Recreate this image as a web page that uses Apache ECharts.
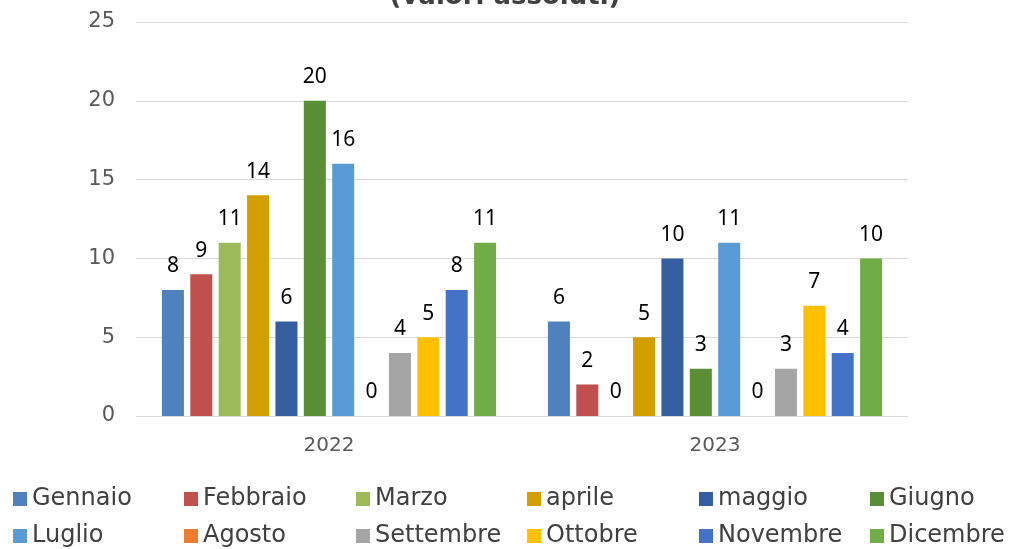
<!DOCTYPE html>
<html>
<head>
<meta charset="utf-8">
<script src="https://cdn.jsdelivr.net/npm/echarts@6/dist/echarts.min.js"></script>
<style>
  html, body { margin: 0; padding: 0; background: #fff; }
  #chart { width: 1010px; height: 549px; }
</style>
</head>
<body>
<div id="chart"></div>
<script>
const years = ['2022', '2023']
const months = ['Gennaio', 'Febbraio', 'Marzo', 'aprile', 'maggio', 'Giugno',
  'Luglio', 'Agosto', 'Settembre', 'Ottobre', 'Novembre', 'Dicembre']
const values2022 = [8, 9, 11, 14, 6, 20, 16, 0, 4, 5, 8, 11]
const values2023 = [6, 2, 0, 5, 10, 3, 11, 0, 3, 7, 4, 10]
const yTicks = [0, 5, 10, 15, 20, 25]

const colors = ['#4F81BD', '#C0504D', '#9BBB59', '#D39F00', '#355EA1', '#5A8E36',
  '#5B9BD5', '#ED7D31', '#A5A5A5', '#FFC000', '#4472C4', '#70AD47']

const font = 'DejaVu Sans, Verdana, sans-serif'

const series = months.map((m, i) => ({
  name: m,
  type: 'bar',
  data: [values2022[i], values2023[i]],
  itemStyle: { color: colors[i] },
  barWidth: 22,
  barGap: '29%',
  label: {
    show: true,
    position: 'top',
    distance: 13,
    color: '#000',
    fontFamily: 'Noto Sans, sans-serif',
    fontSize: 21
  }
}))

// one vertical legend per column, two months each (Jan/Jul, Feb/Aug, ...)
const legendLefts = [13, 184, 356, 527, 699, 870]
const legends = legendLefts.map((left, c) => ({
  left: left,
  top: 487,
  height: 90,
  padding: 0,
  orient: 'vertical',
  itemWidth: 14,
  itemHeight: 14,
  itemGap: 13,
  icon: 'rect',
  data: [months[c], months[c + 6]],
  textStyle: { fontFamily: font, fontSize: 24, lineHeight: 22, color: '#404040' }
}))

const option = {
  animation: false,
  title: {
    text: '(valori assoluti)',
    left: 'center',
    top: -21,
    textStyle: { fontFamily: font, fontSize: 26, fontWeight: 'bold', color: '#404040' }
  },
  grid: { left: 136, right: 102, top: 22, bottom: 133 },
  legend: legends,
  xAxis: {
    type: 'category',
    data: years,
    axisLine: { lineStyle: { color: '#d9d9d9', width: 1 } },
    axisTick: { show: false },
    axisLabel: { color: '#595959', fontFamily: font, fontSize: 20, margin: 20 }
  },
  yAxis: {
    type: 'value',
    min: yTicks[0],
    max: yTicks[yTicks.length - 1],
    interval: 5,
    axisLine: { show: false },
    axisTick: { show: false },
    axisLabel: { color: '#595959', fontFamily: font, fontSize: 21, margin: 21 },
    splitLine: { lineStyle: { color: '#d9d9d9', width: 1 } }
  },
  series: series
}

const myChart = echarts.init(document.getElementById('chart'))
myChart.setOption(option)
</script>
</body>
</html>
